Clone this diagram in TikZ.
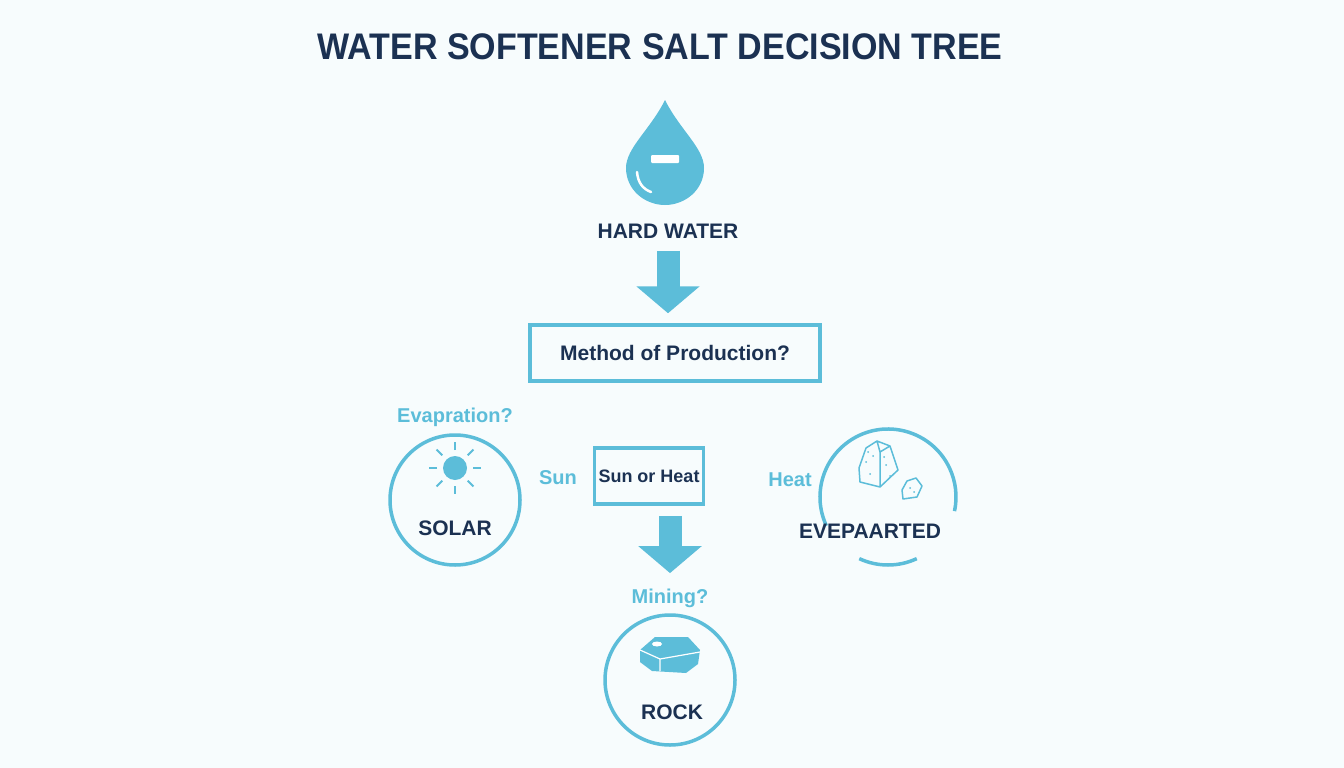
\documentclass[tikz,border=0pt]{standalone}
\usepackage{fontspec}
\setmainfont{Liberation Sans}
\usetikzlibrary{arrows.meta}
\definecolor{navy}{HTML}{1B3152}
\definecolor{sky}{HTML}{5CBDD9}
\definecolor{paper}{HTML}{F7FCFD}
\tikzset{
  lbl/.style={font=\bfseries\fontsize{21}{24}\selectfont, text=navy},
  cue/.style={font=\bfseries\fontsize{20}{24}\selectfont, text=sky},
  qbox/.style={draw=sky, line width=3.5pt, inner sep=0pt},
  ring/.style={draw=sky, line width=3.5pt, circle, minimum size=130pt},
  bigarrow/.style={sky, line width=23pt, -{Triangle[length=27pt,width=62pt]}}
}
\begin{document}
\begin{tikzpicture}[x=1pt,y=-1pt]
    \fill[paper] (0,0) rectangle (1344,768);
    \useasboundingbox (0,0) rectangle (1344,768);

    \node[font=\bfseries\fontsize{37}{40}\selectfont, text=navy, xscale=0.92] (title) at (660,47) {WATER SOFTENER SALT DECISION TREE};

    %Drop
    \fill[sky] (665,100) .. controls (650,130) and (626,148) .. (626,168)
        .. controls (626,190) and (645,205) .. (665,205)
        .. controls (685,205) and (704,190) .. (704,168)
        .. controls (704,148) and (680,130) .. (665,100) -- cycle;
    \fill[white, rounded corners=1pt] (651,155) rectangle (679,163);
    \draw[white, line width=2.5pt, line cap=round] (637,172) .. controls (638,183) and (643,189) .. (651,192);

    \node[lbl] (hw) at (668,231) {HARD WATER};
    \node[qbox, lbl, minimum width=290pt, minimum height=56pt] (method) at (675,353) {Method of Production?};
    \draw[bigarrow, shorten <=9pt, shorten >=10pt] (hw.south) -- (hw.south |- method.north);

    %Solar
    \node[cue] (evap) at (455,417) {Evapration?};
    \node[ring] (solar) at (455,500) {};
    \node[lbl] (solarlbl) at (455,528) {SOLAR};
    \fill[sky] (455,468) circle (12);
    \foreach \a in {0,45,...,315}
        \draw[sky, line width=2pt] (455,468) ++(\a:18) -- ++(\a:8);

    %Middle
    \node[cue] (sun) at (558,478) {Sun};
    \node[qbox, lbl, font=\bfseries\fontsize{18}{22}\selectfont, minimum width=109pt, minimum height=56pt] (sunheat) at (649,476) {Sun or Heat};
    \node[cue] (heat) at (790,480) {Heat};

    %Evaporated
    \coordinate (evc) at (888,497);
    \draw[sky, line width=3.5pt] (evc) ++(-205:68) arc (-205:12:68);
    \draw[sky, line width=3.5pt] (evc) ++(65:68) arc (65:115:68);
    \node[lbl] (evlbl) at (870,531) {EVEPAARTED};
    \draw[sky, line width=1.5pt, line join=round] (860,482) -- (880,487) -- (898,470) -- (890,446) -- (877,441) -- (866,448) -- (859,468) -- cycle
        (877,441) -- (880,452) -- (890,446) (880,452) -- (880,487);
    \draw[sky, line width=1.5pt, line join=round] (903,499) -- (917,497) -- (922,486) -- (916,478) -- (907,481) -- (902,490) -- cycle;
    \foreach \p in {(866,462),(870,474),(873,456),(868,452),(886,465),(890,476),(884,457),(910,488),(914,492)}
        \fill[sky] \p circle (1);

    %Rock
    \node[cue] (mining) at (670,598) {Mining?};
    \node[ring] (rock) at (670,680) {};
    \node[lbl] (rocklbl) at (672,712) {ROCK};
    \fill[sky] (640,650) -- (655,637) -- (688,637) -- (700,650) -- (698,664) -- (686,673) -- (652,671) -- (640,662) -- cycle;
    \draw[white, line width=1.2pt] (640,650) -- (660,659) -- (700,652) (660,659) -- (660,671);
    \fill[white] (657,644) ellipse (5 and 2.5);

    \draw[bigarrow, shorten <=10pt, shorten >=12pt] (mining.north |- sunheat.south) -- (mining.north);
\end{tikzpicture}
\end{document}
